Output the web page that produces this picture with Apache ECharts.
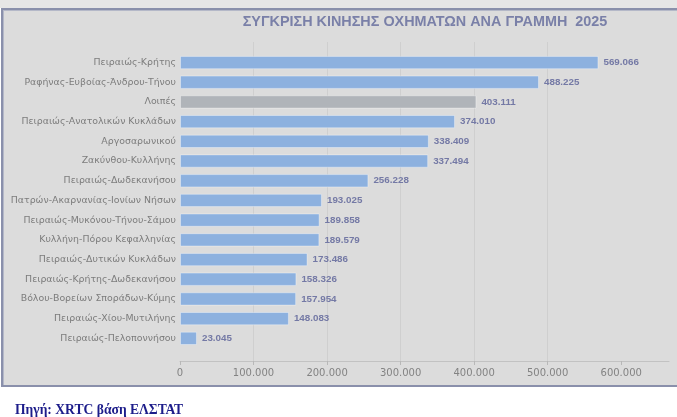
<!DOCTYPE html>
<html>
<head>
<meta charset="utf-8">
<script src="https://cdn.jsdelivr.net/npm/echarts@6/dist/echarts.min.js"></script>
<style>
html,body{margin:0;padding:0;background:#ffffff;width:677px;height:417px;overflow:hidden;}
#strip{position:absolute;left:0;top:0;width:677px;height:8px;background:#e6e6e6;}
#frame{position:absolute;left:1px;top:8px;width:690px;height:375px;background:#dcdcdc;border:2px solid #8a90ab;border-right:none;box-shadow:inset 1px 1px 0 #b4b8c8;}
#chart{position:absolute;left:0;top:0;width:677px;height:417px;}
</style>
</head>
<body>
<div id="strip"></div>
<div id="frame"></div>
<div id="chart"></div>
<script>
const categories = [
  'Πειραιώς-Κρήτης',
  'Ραφήνας-Ευβοίας-Άνδρου-Τήνου',
  'Λοιπές',
  'Πειραιώς-Ανατολικών Κυκλάδων',
  'Αργοσαρωνικού',
  'Ζακύνθου-Κυλλήνης',
  'Πειραιώς-Δωδεκανήσου',
  'Πατρών-Ακαρνανίας-Ιονίων Νήσων',
  'Πειραιώς-Μυκόνου-Τήνου-Σάμου',
  'Κυλλήνη-Πόρου Κεφαλληνίας',
  'Πειραιώς-Δυτικών Κυκλάδων',
  'Πειραιώς-Κρήτης-Δωδεκανήσου',
  'Βόλου-Βορείων Σποράδων-Κύμης',
  'Πειραιώς-Χίου-Μυτιλήνης',
  'Πειραιώς-Πελοποννήσου'
];
const vehicles = [569066, 488225, 403111, 374010, 338409, 337494, 256228, 193025, 189858, 189579, 173486, 158326, 157954, 148083, 23045];
const highlightCategory = 'Λοιπές';
const xTicks = [0, 100000, 200000, 300000, 400000, 500000, 600000];
const titleText = 'ΣΥΓΚΡΙΣΗ ΚΙΝΗΣΗΣ ΟΧΗΜΑΤΩΝ ΑΝΑ ΓΡΑΜΜΗ  2025';
const sourceText = 'Πηγή: XRTC βάση ΕΛΣΤΑΤ';

function fmt(v){
  return String(Math.round(v)).replace(/\B(?=(\d{3})+(?!\d))/g, '.');
}

const chart = echarts.init(document.getElementById('chart'), null, {renderer:'canvas'});
const XMAX = 665000;
const option = {
  backgroundColor: 'transparent',
  animation: false,
  graphic: [
    {type:'text', x:425, y:22, z:10, style:{text:titleText, textAlign:'center', textVerticalAlign:'middle', fill:'#7a80a8', font:'bold 14.4px "Liberation Sans"'}},
    {type:'text', x:15, y:410.5, z:10, style:{text:sourceText, textAlign:'left', textVerticalAlign:'middle', fill:'#1c1c8a', font:'bold 13.6px "Liberation Serif"'}}
  ],
  grid: [
    {left:180, right:8, top:52.7, height:295.5, containLabel:false},
    {left:180, right:8, top:42, bottom:56, containLabel:false}
  ],
  xAxis: [
    {type:'value', gridIndex:0, min:0, max:XMAX, show:false, splitLine:{show:false}},
    {type:'value', gridIndex:1, min:0, max:XMAX, interval:100000,
     axisLine:{show:true, lineStyle:{color:'#c2c2c2', width:1}},
     axisTick:{show:true, length:4, lineStyle:{color:'#b8b8b8'}, customValues:xTicks},
     splitLine:{show:true, showMinLine:false, showMaxLine:false, lineStyle:{color:'#cfcfcf', width:1}},
     axisLabel:{customValues:xTicks, formatter:fmt, color:'#838383', fontFamily:'DejaVu Sans', fontSize:10, margin:7}
    }
  ],
  yAxis: [
    {type:'category', gridIndex:0, inverse:true, data:categories,
     axisLine:{show:false}, axisTick:{show:false}, splitLine:{show:false},
     axisLabel:{color:'#7c7c7c', fontFamily:'DejaVu Sans', fontSize:9.4, margin:4}
    },
    {type:'value', gridIndex:1, show:false, splitLine:{show:false}}
  ],
  series: [{
    type:'bar', xAxisIndex:0, yAxisIndex:0,
    data: vehicles.map((v,i)=>({value:v, itemStyle:{color: categories[i]===highlightCategory ? '#b0b4b9' : '#8db1df'}})),
    barWidth:13.3,
    itemStyle:{borderColor:'rgba(255,255,255,0.35)', borderWidth:1},
    label:{show:true, position:'right', distance:5, formatter:p=>fmt(p.value), color:'#7479a5', fontFamily:'Liberation Sans', fontWeight:'bold', fontSize:9.8}
  }]
};
chart.setOption(option);
</script>
</body>
</html>
